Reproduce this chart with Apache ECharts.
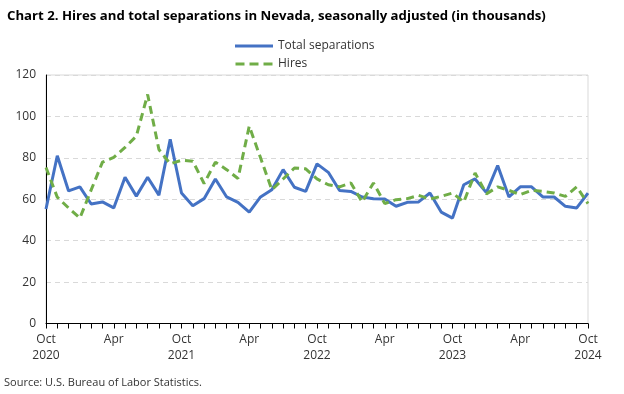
<!DOCTYPE html>
<html>
<head>
<meta charset="utf-8">
<script src="https://cdn.jsdelivr.net/npm/echarts@6/dist/echarts.min.js"></script>
<style>
html,body{margin:0;padding:0;background:#fff;}
#c{width:624px;height:394px;}
</style>
</head>
<body>
<div id="c"></div>
<script>
const months = [
 "Oct 2020","Nov 2020","Dec 2020","Jan 2021","Feb 2021","Mar 2021","Apr 2021","May 2021","Jun 2021","Jul 2021","Aug 2021","Sep 2021",
 "Oct 2021","Nov 2021","Dec 2021","Jan 2022","Feb 2022","Mar 2022","Apr 2022","May 2022","Jun 2022","Jul 2022","Aug 2022","Sep 2022",
 "Oct 2022","Nov 2022","Dec 2022","Jan 2023","Feb 2023","Mar 2023","Apr 2023","May 2023","Jun 2023","Jul 2023","Aug 2023","Sep 2023",
 "Oct 2023","Nov 2023","Dec 2023","Jan 2024","Feb 2024","Mar 2024","Apr 2024","May 2024","Jun 2024","Jul 2024","Aug 2024","Sep 2024",
 "Oct 2024"
];
const totalSeparations = [
 55.3, 81, 64, 66, 57.7, 58.7, 55.8, 70.6, 61.5, 70.6, 62, 89,
 63, 56.9, 60.3, 69.8, 61.1, 58.5, 53.8, 61.1, 64.6, 74.3, 65.8, 63.8,
 77.1, 73, 64.2, 63.8, 61.1, 60.2, 60.1, 56.6, 58.5, 58.7, 63, 53.8,
 50.9, 67, 69.8, 63.2, 76.3, 61.1, 66, 66, 61.1, 61.1, 56.6, 55.8,
 63
];
const hires = [
 75.3, 61, 55.8, 50.9, 64.5, 77.9, 80.2, 85, 90.5, 110.6, 84, 77.1,
 78.8, 78.4, 67.6, 77.9, 74.3, 70, 95.3, 80, 64.6, 69.8, 75.1, 74.7,
 69.8, 67, 66, 67.9, 58.7, 67.9, 57.9, 59.8, 60.3, 61.9, 60.1, 61.4,
 63, 58.7, 72.7, 62.6, 66, 64.3, 62.2, 64.3, 63.8, 63, 61.4, 66,
 57.9
];
const yTicks = [0, 20, 40, 60, 80, 100, 120];

const FONT = "'Open Sans', 'Noto Sans', sans-serif";
const chart = echarts.init(document.getElementById('c'), null, {renderer: 'canvas'});
chart.setOption({
  animation: false,
  backgroundColor: '#ffffff',
  textStyle: {fontFamily: FONT},
  title: {
    text: 'Chart 2. Hires and total separations in Nevada, seasonally adjusted (in thousands)',
    left: 2, top: 5,
    textStyle: {fontFamily: FONT, fontSize: 13.2, fontWeight: 'bold', color: '#000'}
  },
  legend: {
    orient: 'vertical',
    left: 230, top: 35,
    itemWidth: 38, itemHeight: 3, itemGap: 6,
    textStyle: {fontFamily: FONT, fontSize: 12, color: '#333'},
    data: [
      {name: 'Total separations', icon: 'path://M0,0 L38,0 L38,3 L0,3 Z'},
      {name: 'Hires', icon: 'path://M0,0 L9,0 L9,3 L0,3 Z M14,0 L23,0 L23,3 L14,3 Z M28,0 L37,0 L37,3 L28,3 Z'}
    ]
  },
  grid: {
    left: 46, right: 36, top: 75, bottom: 70.5,
    show: true, borderColor: '#d9d9d9', borderWidth: 1, containLabel: false
  },
  xAxis: {
    type: 'category',
    data: months,
    boundaryGap: false,
    axisLine: {lineStyle: {color: '#000', width: 1}},
    axisTick: {show: true, interval: 0, length: 5, lineStyle: {color: '#000'}},
    axisLabel: {
      interval: 5,
      fontFamily: FONT, fontSize: 12, color: '#333', margin: 8, lineHeight: 16,
      formatter: function (v) {
        const p = v.split(' ');
        return p[0] === 'Oct' ? p[0] + '\n' + p[1] : p[0];
      }
    },
    splitLine: {show: false}
  },
  yAxis: {
    type: 'value',
    min: yTicks[0], max: yTicks[yTicks.length - 1], interval: 20,
    axisLine: {show: true, lineStyle: {color: '#000', width: 1}},
    axisTick: {show: false},
    axisLabel: {fontFamily: FONT, fontSize: 12, color: '#333', margin: 10},
    splitLine: {show: true, lineStyle: {color: '#d9d9d9', type: [5, 4], width: 1}}
  },
  series: [
    {
      name: 'Total separations', type: 'line', data: totalSeparations,
      symbol: 'none', color: '#4472C4',
      lineStyle: {width: 3, color: '#4472C4'}
    },
    {
      name: 'Hires', type: 'line', data: hires,
      symbol: 'none', color: '#70AD47',
      lineStyle: {width: 3, color: '#70AD47', type: [8, 5]}
    }
  ],
  graphic: [{
    type: 'text', left: 4, top: 377,
    style: {text: 'Source: U.S. Bureau of Labor Statistics.', font: '11px ' + FONT, fill: '#333'}
  }]
});
</script>
</body>
</html>
